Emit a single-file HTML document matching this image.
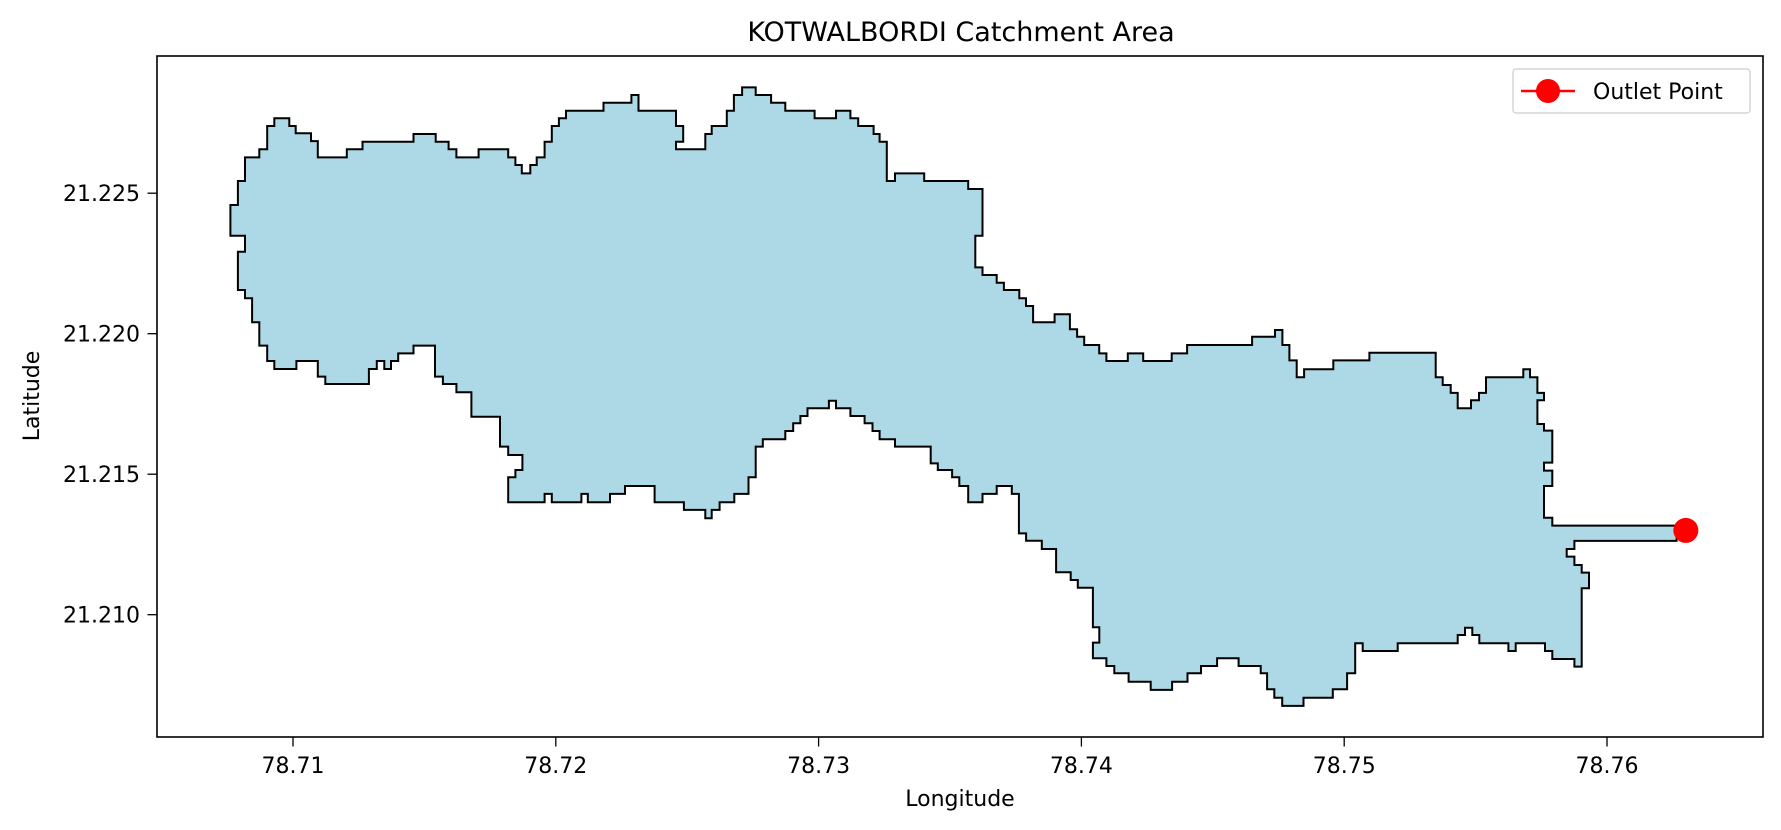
<!DOCTYPE html>
<html><head><meta charset="utf-8"><style>
html,body{margin:0;padding:0;background:#fff;}
svg{display:block;font-family:"DejaVu Sans","Liberation Sans",sans-serif;}
</style></head><body>
<svg id="chart" width="1781" height="830" viewBox="0 0 1781 830" xmlns="http://www.w3.org/2000/svg">
<rect x="0" y="0" width="1781" height="830" fill="#fff"/>
<text x="961" y="41" font-size="27" text-anchor="middle" fill="#000">KOTWALBORDI Catchment Area</text>
<g id="plot"></g>
<g id="xticks"></g>
<g id="yticks"></g>
<rect x="157" y="56" width="1606" height="681" fill="none" stroke="#000" stroke-width="1.6"/>
<text x="960" y="806" font-size="22" text-anchor="middle" fill="#000">Longitude</text>
<text x="0" y="0" font-size="22" text-anchor="middle" fill="#000" transform="translate(39,396) rotate(-90)">Latitude</text>
<g>
<rect x="1513" y="69" width="237" height="44" rx="3" fill="#fff" fill-opacity="0.8" stroke="#ccc" stroke-width="1.2"/>
<line x1="1521" y1="91" x2="1575" y2="91" stroke="#ff0000" stroke-width="2.5"/>
<circle cx="1548" cy="91" r="12" fill="#ff0000"/>
<text x="1593" y="99" font-size="22" fill="#000">Outlet Point</text>
</g>
</svg>
<script>
// Boundary vertices in arcseconds east of 78.70°E and north of 21.20°N
const boundaryArcsec = [
[33.44,99.59],[35.49,99.59],[35.49,98.61],[36.37,98.61],[36.37,97.67],[38.47,97.67],[38.47,96.68],[39.4,96.68],[39.4,94.59],[43.37,94.59],[43.37,95.62],[45.52,95.62],[45.52,96.6],[52.51,96.6],[52.51,97.58],[55.55,97.58],[55.55,96.6],[57.31,96.6],[57.31,95.62],[58.38,95.62],[58.38,94.59],[61.42,94.59],[61.42,95.62],[65.48,95.62],[65.48,94.59],[66.46,94.59],[66.46,93.61],[67.34,93.61],[67.34,92.54],[68.51,92.54],[68.51,93.61],[69.39,93.61],[69.39,94.59],[70.47,94.59],[70.47,96.6],[71.45,96.6],[71.45,98.61],[72.43,98.61],[72.43,99.59],[73.4,99.59],[73.4,100.57],[78.54,100.57],[78.54,101.6],[82.36,101.6],[82.36,102.58],[83.33,102.58],[83.33,100.57],[88.47,100.57],[88.47,98.61],[89.45,98.61],[89.45,96.6],[88.47,96.6],[88.47,95.62],[92.48,95.62],[92.48,97.58],[93.36,97.58],[93.36,98.61],[95.42,98.61],[95.42,100.57],[96.4,100.57],[96.4,102.58],[97.52,102.58],[97.52,103.56],
[99.38,103.56],[99.38,102.58],[101.49,102.58],[101.49,101.6],[103.44,101.6],[103.44,100.57],[107.45,100.57],[107.45,99.59],[110.39,99.59],[110.39,100.57],[112.35,100.57],[112.35,99.59],[113.42,99.59],[113.42,98.61],[115.53,98.61],[115.53,97.58],[116.36,97.58],[116.36,96.6],[117.34,96.6],[117.34,91.56],[118.46,91.56],[118.46,92.54],[122.47,92.54],[122.47,91.56],[128.49,91.56],[128.49,90.54],[130.45,90.54],[130.45,84.56],[129.47,84.56],[129.47,80.5],[130.45,80.5],[130.45,79.52],[132.4,79.52],[132.4,78.54],[133.38,78.54],[133.38,77.6],[135.49,77.6],[135.49,76.53],[136.41,76.53],[136.41,75.55],[137.39,75.55],[137.39,73.46],[140.33,73.46],[140.33,74.48],[142.43,74.48],[142.43,72.56],[143.41,72.56],[143.41,71.62],[144.39,71.62],[144.39,70.55],[146.44,70.55],[146.44,69.48],[147.42,69.48],[147.42,68.5],[150.36,68.5],[150.36,69.48],[152.46,69.48],[152.46,68.5],[156.37,68.5],[156.37,69.48],[158.48,69.48],[158.48,70.55],[167.38,70.55],[167.38,71.62],
[170.52,71.62],[170.52,72.47],[171.53,72.47],[171.53,70.55],[172.49,70.55],[172.49,68.58],[173.49,68.58],[173.49,66.41],[174.5,66.41],[174.5,67.44],[178.51,67.44],[178.51,68.58],[183.45,68.58],[183.45,69.57],[192.53,69.57],[192.53,66.41],[193.49,66.41],[193.49,65.43],[194.59,65.43],[194.59,64.41],[195.55,64.41],[195.55,62.44],[197.37,62.44],[197.37,63.47],[198.47,63.47],[198.47,64.41],[199.43,64.41],[199.43,66.41],[204.54,66.41],[204.54,67.44],[205.45,67.44],[205.45,66.41],[206.46,66.41],[206.46,64.41],[207.37,64.41],[207.37,63.47],[206.46,63.47],[206.46,60.43],[207.37,60.43],[207.37,59.58],[208.51,59.58],[208.51,55.48],[207.37,55.48],[207.37,54.46],[208.51,54.46],[208.51,52.49],[207.37,52.49],[207.37,48.43],[208.51,48.43],[208.51,47.41],[225.54,47.41],[225.54,45.45],[211.53,45.45],[211.53,44.42],[210.48,44.42],[210.48,43.44],[211.53,43.44],[211.53,42.37],[212.53,42.37],[212.53,41.39],[213.54,41.39],[213.54,39.38],[212.53,39.38],[212.53,29.35],[211.53,29.35],[211.53,30.33],[208.51,30.33],[208.51,31.35],[207.51,31.35],[207.51,32.34],[203.49,32.34],[203.49,31.35],[202.49,31.35],[202.49,32.34],[198.51,32.34],[198.51,33.4],[197.55,33.4],[197.55,34.34],[196.55,34.34],[196.55,33.4],[195.55,33.4],[195.55,32.34],[187.33,32.34],[187.33,31.35],[182.53,31.35],[182.53,32.34],[181.5,32.34],
[181.5,28.49],[180.4,28.49],[180.4,26.44],[178.44,26.44],[178.44,25.37],[174.43,25.37],[174.43,24.31],[171.5,24.31],[171.5,25.37],[170.42,25.37],[170.42,26.44],[169.44,26.44],[169.44,28.49],[168.56,28.49],[168.56,29.43],[165.53,29.43],[165.53,30.41],[162.59,30.41],[162.59,29.43],[160.39,29.43],[160.39,28.49],[158.53,28.49],[158.53,27.42],[156.43,27.42],[156.43,26.36],[153.49,26.36],[153.49,27.42],[150.46,27.42],[150.46,28.49],[148.5,28.49],[148.5,29.43],[147.43,29.43],[147.43,30.41],[145.57,30.41],[145.57,32.42],[146.45,32.42],[146.45,34.38],[145.57,34.38],[145.57,39.46],[143.51,39.46],[143.51,40.45],[142.53,40.45],[142.53,41.43],[140.53,41.43],[140.53,44.42],[138.57,44.42],[138.57,45.48],[136.42,45.48],[136.42,46.42],[135.44,46.42],[135.44,51.47],
[134.46,51.47],[134.46,52.49],[132.4,52.49],[132.4,51.47],[130.45,51.47],[130.45,50.4],[128.49,50.4],[128.49,52.49],[127.27,52.49],[127.27,53.6],[126.29,53.6],[126.29,54.54],[124.33,54.54],[124.33,55.39],[123.35,55.39],[123.35,57.53],[118.46,57.53],[118.46,58.47],[116.36,58.47],[116.36,59.54],[115.38,59.54],[115.38,60.52],[114.3,60.52],[114.3,61.46],[112.35,61.46],[112.35,62.44],[110.39,62.44],[110.39,63.42],[109.41,63.42],[109.41,62.44],[106.48,62.44],[106.48,61.46],[105.5,61.46],[105.5,60.52],[104.52,60.52],[104.52,59.54],[103.44,59.54],[103.44,58.47],[100.36,58.47],[100.36,57.53],[99.38,57.53],[99.38,53.6],[98.4,53.6],[98.4,51.47],[96.45,51.47],[96.45,50.4],
[94.44,50.4],[94.44,49.42],[93.36,49.42],[93.36,48.35],[92.48,48.35],[92.48,49.42],[89.55,49.42],[89.55,50.4],[85.54,50.4],[85.54,52.49],[81.48,52.49],[81.48,51.47],[79.42,51.47],[79.42,50.4],[76.39,50.4],[76.39,51.47],[75.51,51.47],[75.51,50.4],[71.45,50.4],[71.45,51.47],[70.47,51.47],[70.47,50.4],[65.48,50.4],[65.48,53.6],[66.46,53.6],[66.46,54.54],[67.43,54.54],[67.43,56.46],[65.48,56.46],[65.48,57.53],[64.35,57.53],[64.35,61.37],[60.44,61.37],[60.44,64.49],[58.38,64.49],[58.38,65.56],[56.53,65.56],[56.53,66.5],[55.45,66.5],[55.45,70.47],[52.51,70.47],[52.51,69.48],[50.41,69.48],[50.41,68.5],[49.43,68.5],[49.43,67.48],[48.5,67.48],[48.5,68.5],[47.48,68.5],[47.48,67.48],[46.4,67.48],[46.4,65.56],[40.43,65.56],[40.43,66.5],[39.4,66.5],[39.4,68.5],[36.47,68.5],[36.47,67.48],[33.44,67.48],[33.44,68.5],[32.46,68.5],[32.46,70.47],[31.38,70.47],[31.38,73.46],[30.4,73.46],[30.4,76.53],[29.42,76.53],[29.42,77.6],[28.45,77.6],[28.45,82.51],[29.42,82.51],[29.42,84.56],[27.42,84.56],[27.42,88.49],[28.45,88.49],[28.45,91.56],[29.42,91.56],[29.42,94.59],[31.38,94.59],[31.38,95.62],[32.46,95.62],[32.46,98.61],[33.44,98.61]
];
const outletLon = [78.7630];
const outletLat = [21.2130];
const xTickValues = [78.71, 78.72, 78.73, 78.74, 78.75, 78.76];
const xTickLabels = ["78.71", "78.72", "78.73", "78.74", "78.75", "78.76"];
const yTickValues = [21.210, 21.215, 21.220, 21.225];
const yTickLabels = ["21.210", "21.215", "21.220", "21.225"];

const NS = "http://www.w3.org/2000/svg";
function xScale(lon){ return 293 + (lon - 78.71) * 26280; }
function yScale(lat){ return 193.2 + (21.225 - lat) * 28100; }
function lonFromSec(s){ return 78.70 + s / 3600; }
function latFromSec(s){ return 21.20 + s / 3600; }

const plot = document.getElementById('plot');
const pts = boundaryArcsec.map(p => xScale(lonFromSec(p[0])).toFixed(1) + ',' + yScale(latFromSec(p[1])).toFixed(1)).join(' ');
const poly = document.createElementNS(NS, 'polygon');
poly.setAttribute('points', pts);
poly.setAttribute('fill', '#add8e6');
poly.setAttribute('stroke', '#000');
poly.setAttribute('stroke-width', '2');
poly.setAttribute('stroke-linejoin', 'miter');


plot.appendChild(poly);

outletLon.forEach((lon, i) => {
  const c = document.createElementNS(NS, 'circle');
  c.setAttribute('cx', xScale(lon));
  c.setAttribute('cy', yScale(outletLat[i]));
  c.setAttribute('r', 12.5);
  c.setAttribute('fill', '#ff0000');
  
  
  plot.appendChild(c);
});

const xg = document.getElementById('xticks');
xTickValues.forEach((v, i) => {
  const x = xScale(v);
  const l = document.createElementNS(NS, 'line');
  l.setAttribute('x1', x); l.setAttribute('x2', x);
  l.setAttribute('y1', 737); l.setAttribute('y2', 746.5);
  l.setAttribute('stroke', '#000'); l.setAttribute('stroke-width', '1.3');
  
  
  xg.appendChild(l);
  const t = document.createElementNS(NS, 'text');
  t.setAttribute('x', x); t.setAttribute('y', 773);
  t.setAttribute('font-size', '22'); t.setAttribute('text-anchor', 'middle');
  t.textContent = xTickLabels[i];
  
  
  xg.appendChild(t);
});
const yg = document.getElementById('yticks');
yTickValues.forEach((v, i) => {
  const y = yScale(v);
  const l = document.createElementNS(NS, 'line');
  l.setAttribute('x1', 147.5); l.setAttribute('x2', 157);
  l.setAttribute('y1', y); l.setAttribute('y2', y);
  l.setAttribute('stroke', '#000'); l.setAttribute('stroke-width', '1.3');
  
  
  yg.appendChild(l);
  const t = document.createElementNS(NS, 'text');
  t.setAttribute('x', 140); t.setAttribute('y', y + 8);
  t.setAttribute('font-size', '22'); t.setAttribute('text-anchor', 'end');
  t.textContent = yTickLabels[i];
  
  
  yg.appendChild(t);
});
</script>
</body></html>
